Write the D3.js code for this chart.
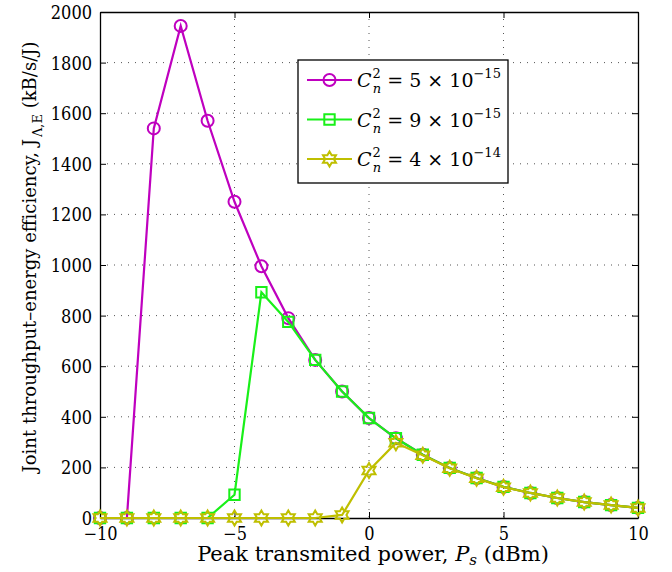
<!DOCTYPE html>
<html>
<head>
<meta charset="utf-8">
<script src="https://cdn.jsdelivr.net/npm/d3@7"></script>
<style>
  body { margin: 0; background: #fff; }
  svg { display: block; }
  svg text { font-family: "DejaVu Serif", serif; }
  svg text.num { font-family: "DejaVu Serif Condensed", "DejaVu Serif", serif; }
</style>
</head>
<body>
<svg id="chart" width="672" height="572"></svg>
<script>
// Peak transmitted power (dBm)
const powerDbm = [-10,-9,-8,-7,-6,-5,-4,-3,-2,-1,0,1,2,3,4,5,6,7,8,9,10];

// Joint throughput-energy efficiency (kB/s/J) for each turbulence strength
const effCn5e15 = [0,0,1540,1945,1570,1250,995,790,625,500,395,315,250,198,158,123,99,79,63,51,40];
const effCn9e15 = [0,0,0,0,0,92,892,775,625,500,395,315,250,198,158,123,99,79,63,51,40];
const effCn4e14 = [0,0,0,0,0,0,0,0,0,12,188,297,248,197,157,122,99,79,63,51,40];

const xTicks = [-10,-5,0,5,10];
const yTicks = [0,200,400,600,800,1000,1200,1400,1600,1800,2000];

const seriesNames = ["5", "9", "4"];
const seriesExps = ["\u221215", "\u221215", "\u221214"];
const seriesColors = ["#bf00bf", "#19f019", "#bfbf00"];
const seriesMarkers = ["circle", "square", "hexagram"];
const seriesValues = [effCn5e15, effCn9e15, effCn4e14];

const svg = d3.select("#chart");
const m = { left: 100, right: 34, top: 12, bottom: 54 };
const W = 672, H = 572;
const iw = W - m.left - m.right, ih = H - m.top - m.bottom;

const x = d3.scaleLinear().domain([-10, 10]).range([m.left, m.left + iw]);
const y = d3.scaleLinear().domain([0, 2000]).range([m.top + ih, m.top]);

// dotted grid
const grid = svg.append("g").attr("stroke", "#555").attr("stroke-width", 1)
  .attr("stroke-dasharray", "1,6");
grid.selectAll("line.gx").data(xTicks.slice(1, -1)).join("line")
  .attr("x1", d => x(d)).attr("x2", d => x(d))
  .attr("y1", m.top).attr("y2", m.top + ih);
grid.selectAll("line.gy").data(yTicks.slice(1, -1)).join("line")
  .attr("y1", d => y(d)).attr("y2", d => y(d))
  .attr("x1", m.left).attr("x2", m.left + iw);

// axes with inward ticks
const fontSize = 18;
const xAxis = svg.append("g").attr("transform", `translate(0,${m.top + ih})`)
  .call(d3.axisBottom(x).tickValues(xTicks).tickSizeInner(-6).tickSizeOuter(0)
    .tickPadding(11).tickFormat(d => d < 0 ? "\u2212" + Math.abs(d) : String(d)));
const yAxis = svg.append("g").attr("transform", `translate(${m.left},0)`)
  .call(d3.axisLeft(y).tickValues(yTicks).tickSizeInner(-6).tickSizeOuter(0)
    .tickPadding(8).tickFormat(d3.format("d")));
const xTop = svg.append("g").attr("transform", `translate(0,${m.top})`)
  .call(d3.axisTop(x).tickValues(xTicks).tickSizeInner(-6).tickSizeOuter(0).tickFormat(""));
const yRight = svg.append("g").attr("transform", `translate(${m.left + iw},0)`)
  .call(d3.axisRight(y).tickValues(yTicks).tickSizeInner(-6).tickSizeOuter(0).tickFormat(""));
[xAxis, yAxis, xTop, yRight].forEach(g => {
  g.attr("font-size", fontSize);
  g.selectAll(".domain").attr("stroke", "#000").attr("stroke-width", 1.3);
  g.selectAll(".tick line").attr("stroke", "#000");
  g.selectAll("text").attr("fill", "#000").attr("class", "num");
});
xAxis.selectAll("text").attr("dy", "0.6em");
yAxis.selectAll("text").attr("dy", "0.36em");

// series lines and markers
const line = d3.line().x((d, i) => x(powerDbm[i])).y(d => y(d));
function markerPath(type, s) {
  if (type === "circle") return d3.symbol(d3.symbolCircle, Math.PI * s * s)();
  if (type === "square") return `M${-s},${-s}H${s}V${s}H${-s}Z`;
  // six-pointed star made of two triangles
  const r = s * 1.25, pts = [];
  for (let k = 0; k < 12; k++) {
    const a = -Math.PI / 2 + k * Math.PI / 6;
    const rr = k % 2 === 0 ? r : r * 0.577;
    pts.push([rr * Math.cos(a), rr * Math.sin(a)]);
  }
  return "M" + pts.map(p => p.join(",")).join("L") + "Z";
}
const markerSize = [6, 5.2, 6];

seriesValues.forEach((vals, si) => {
  const g = svg.append("g");
  g.append("path").datum(vals).attr("d", line)
    .attr("fill", "none").attr("stroke", seriesColors[si]).attr("stroke-width", 2.2);
  g.selectAll("path.mk").data(vals).join("path").attr("class", "mk")
    .attr("transform", (d, i) => `translate(${x(powerDbm[i])},${y(d)})`)
    .attr("d", markerPath(seriesMarkers[si], markerSize[si]))
    .attr("fill", "none").attr("stroke", seriesColors[si]).attr("stroke-width", 2);
});

// legend
const lg = svg.append("g").attr("transform", "translate(298,60)");
lg.append("rect").attr("width", 210).attr("height", 123)
  .attr("fill", "#fff").attr("stroke", "#000").attr("stroke-width", 1.3);
seriesNames.forEach((nm, si) => {
  const cy = 20 + si * 39.5;
  lg.append("line").attr("x1", 9).attr("x2", 54).attr("y1", cy).attr("y2", cy)
    .attr("stroke", seriesColors[si]).attr("stroke-width", 2.2);
  lg.append("path").attr("transform", `translate(31.5,${cy})`)
    .attr("d", markerPath(seriesMarkers[si], markerSize[si]))
    .attr("fill", "none").attr("stroke", seriesColors[si]).attr("stroke-width", 2);
  const t = lg.append("text").attr("x", 59).attr("y", cy + 7).attr("font-size", 19).attr("fill", "#000");
  t.append("tspan").attr("font-style", "italic").text("C");
  t.append("tspan").attr("font-size", 13).attr("dy", -9).attr("dx", 1).text("2");
  t.append("tspan").attr("font-size", 13).attr("font-style", "italic").attr("dx", -8).attr("dy", 15).text("n");
  t.append("tspan").attr("dy", -6).text(" = " + nm + " \u00d7 10");
  t.append("tspan").attr("font-size", 13).attr("dy", -9).text(seriesExps[si]);
});

// axis titles
const xl = svg.append("text").attr("x", x(0) + 4).attr("y", 561).attr("text-anchor", "middle")
  .attr("font-size", 21).attr("fill", "#000");
xl.append("tspan").text("Peak transmited power, ");
xl.append("tspan").attr("font-style", "italic").text("P");
xl.append("tspan").attr("font-style", "italic").attr("font-size", 15).attr("dy", 4).text("s");
xl.append("tspan").attr("dy", -4).text(" (dBm)");

const yl = svg.append("text").attr("transform", `translate(36,257) rotate(-90)`)
  .attr("text-anchor", "middle").attr("font-size", 18).attr("fill", "#000");
yl.append("tspan").text("Joint throughput\u2013energy efficiency, J");
yl.append("tspan").attr("font-size", 13).attr("dy", 6).attr("dx", 2).text("\u039b,E");
yl.append("tspan").attr("dy", -6).text(" (kB/s/J)");
</script>
</body>
</html>
